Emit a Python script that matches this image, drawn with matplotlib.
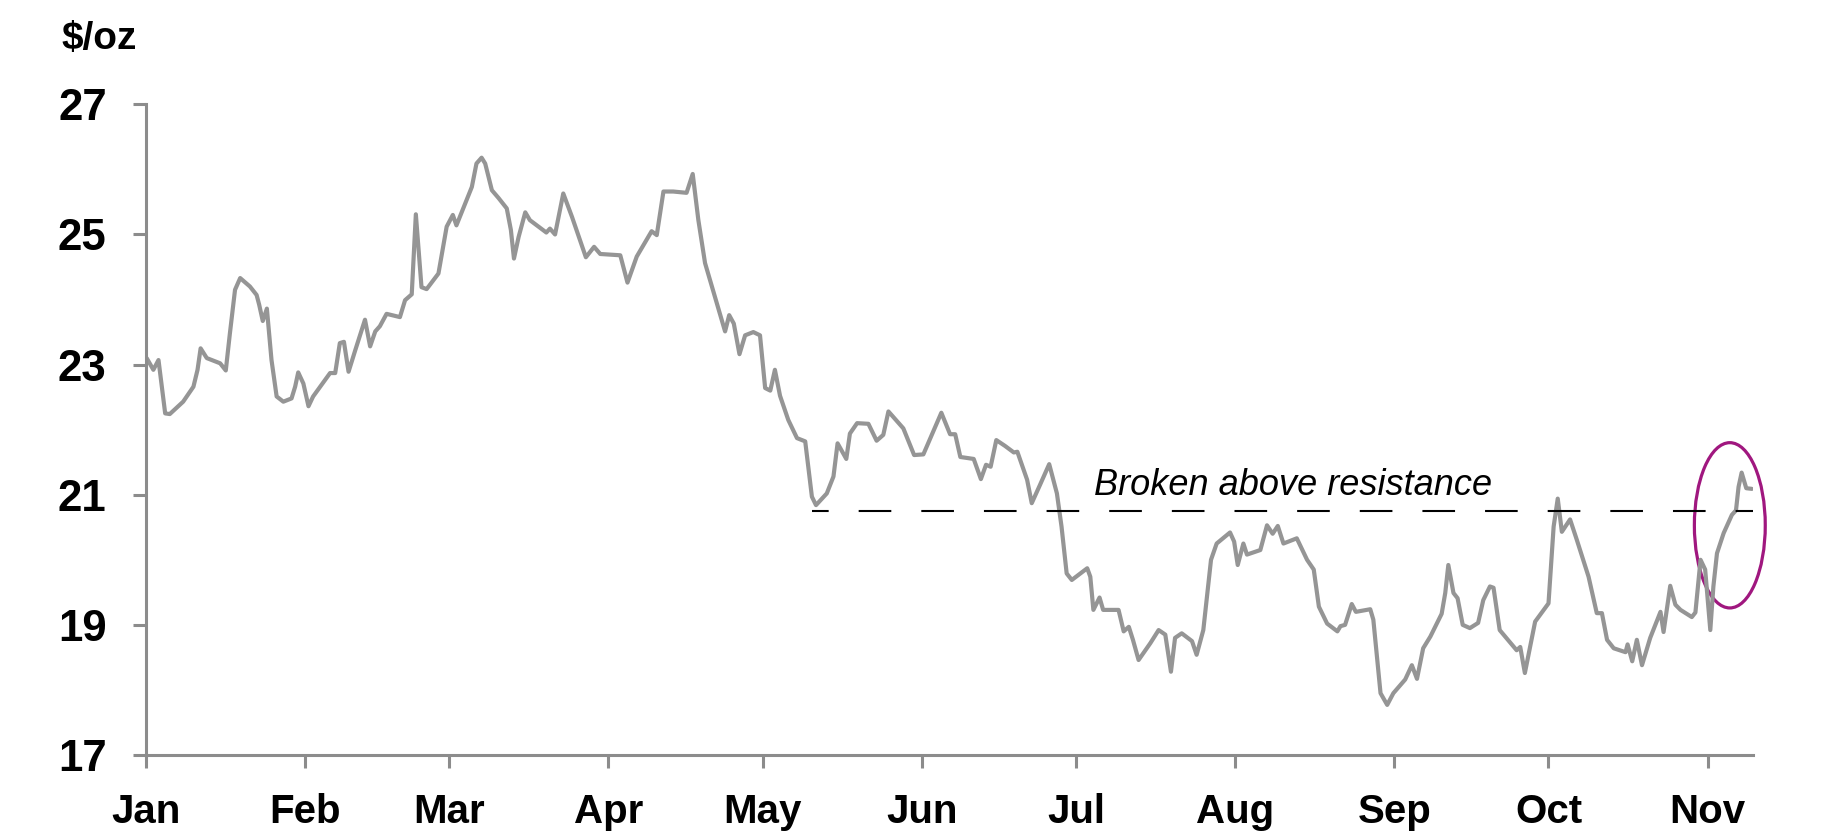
import numpy as np
import pandas as pd
import matplotlib
matplotlib.use("Agg")
import matplotlib.pyplot as plt
import matplotlib.dates as mdates
from matplotlib.patches import Ellipse

# days after 1 Jan 2022, silver price in $/oz
days = [0.1, 1.4, 2.4, 3.7, 4.6, 7.2, 9.2, 10.0, 10.6, 11.8, 14.4, 15.5, 16.3, 17.3, 18.3,
        20.2, 21.5, 22.0, 22.7, 23.5, 24.4, 25.4, 26.7, 28.3, 29.0, 29.6, 30.6, 31.6, 32.5,
        35.8, 36.8, 37.7, 38.5, 39.4, 40.7, 42.6, 43.6, 44.6, 45.5, 46.8, 49.4, 50.4, 51.7,
        52.5, 53.6, 54.6, 56.9,
        58.5, 59.7, 60.4, 63.4, 64.3, 65.3, 66.0, 67.3, 68.6, 70.2, 71.0, 71.6, 72.5, 73.8,
        74.7, 77.9, 78.6, 79.6, 81.2, 82.9, 85.6, 87.2, 88.4, 92.3, 93.7, 95.5, 98.4, 99.4,
        100.7, 102.6, 105.2, 106.4, 107.5, 108.8, 111.1, 112.7, 113.5, 114.4, 115.5,
        116.6, 118.2, 119.5, 120.5, 121.5, 122.4, 123.4, 125.0, 126.7, 128.3, 128.9, 129.6,
        130.4, 132.5, 133.8, 134.6, 136.3, 137.0, 138.4, 140.6, 142.2, 143.5, 144.5, 147.4,
        149.5, 151.3, 154.8, 156.5, 157.5, 158.5, 161.1, 162.5, 163.5, 164.4, 165.5, 167.2,
        168.9, 169.6, 171.5, 172.4, 174.0, 175.8,
        177.3, 178.2, 179.2, 180.2, 183.2, 183.8, 184.4, 185.6, 186.3, 189.3, 190.3, 191.3,
        192.1, 193.2, 195.5, 197.1, 198.4, 199.5, 200.3, 201.6, 203.6, 204.5, 205.8, 207.3,
        208.4, 211.0, 211.8, 212.5, 213.6, 214.3, 216.9, 218.2, 219.3, 220.3, 221.4, 224.0,
        226.0, 227.3, 228.3, 229.9, 231.9, 232.5, 233.4,
        234.7, 235.5, 238.3, 238.9, 240.3, 241.6, 242.8, 245.1, 246.4, 247.4, 248.6, 250.0,
        252.2, 252.9, 253.5, 254.5, 255.3, 256.3, 257.7, 259.3, 260.3, 261.6, 262.3, 263.5,
        266.8, 267.5, 268.4, 270.4, 273.0, 274.0, 274.8, 275.6, 277.2, 278.5, 280.8, 282.4,
        283.4, 284.4, 285.7, 288.0, 288.4, 289.3, 290.2, 291.2, 292.8,
        294.8, 295.4, 296.7, 297.7, 298.7, 300.9, 301.6, 302.6, 303.5, 304.5, 305.1, 305.8,
        307.1, 308.7, 309.5, 310.0, 310.6, 311.5, 312.6]

price = [23.10, 22.92, 23.07, 22.25, 22.24, 22.43, 22.66, 22.92, 23.25, 23.10, 23.02, 22.91, 23.48, 24.15, 24.33,
         24.20, 24.07, 23.92, 23.67, 23.86, 23.07, 22.51, 22.43, 22.48, 22.66, 22.88, 22.71, 22.36, 22.51,
         22.87, 22.87, 23.33, 23.35, 22.89, 23.22, 23.69, 23.28, 23.51, 23.59, 23.78, 23.73, 23.99, 24.08,
         25.31, 24.19, 24.16, 24.40,
         25.12, 25.30, 25.14, 25.73, 26.09, 26.18, 26.09, 25.68, 25.56, 25.40, 25.07, 24.63, 24.96, 25.34,
         25.22, 25.03, 25.09, 25.00, 25.63, 25.27, 24.65, 24.81, 24.70, 24.68, 24.26, 24.66, 25.05, 24.99,
         25.66, 25.66, 25.64, 25.93, 25.22, 24.56, 23.94, 23.51, 23.76, 23.63, 23.16,
         23.45, 23.50, 23.45, 22.64, 22.60, 22.92, 22.52, 22.15, 21.87, 21.82, 21.43, 20.97,
         20.84, 21.02, 21.28, 21.79, 21.55, 21.94, 22.10, 22.09, 21.83, 21.92, 22.28, 22.02,
         21.61, 21.62, 22.26, 21.93, 21.93, 21.58, 21.55, 21.24, 21.46, 21.43, 21.84, 21.75,
         21.65, 21.66, 21.23, 20.87, 21.15, 21.47,
         21.02, 20.51, 19.79, 19.69, 19.87, 19.74, 19.23, 19.42, 19.23, 19.23, 18.90, 18.97,
         18.77, 18.46, 18.72, 18.92, 18.85, 18.28, 18.80, 18.87, 18.75, 18.54, 18.92, 20.00,
         20.25, 20.42, 20.28, 19.92, 20.25, 20.08, 20.15, 20.53, 20.40, 20.52, 20.25, 20.33,
         20.00, 19.85, 19.28, 19.02, 18.90, 18.98, 19.00,
         19.32, 19.20, 19.24, 19.08, 17.95, 17.77, 17.95, 18.16, 18.38, 18.17, 18.64, 18.82,
         19.17, 19.49, 19.92, 19.49, 19.41, 19.00, 18.95, 19.03, 19.38, 19.59, 19.57, 18.92,
         18.61, 18.66, 18.26, 19.05, 19.33, 20.51, 20.94, 20.43, 20.62, 20.31, 19.74, 19.18,
         19.18, 18.77, 18.64, 18.58, 18.70, 18.44, 18.77, 18.38, 18.80,
         19.20, 18.89, 19.60, 19.31, 19.23, 19.12, 19.19, 20.00, 19.85, 18.92, 19.59, 20.10,
         20.41, 20.69, 20.76, 21.12, 21.34, 21.10, 21.09]

resistance = 20.75
resistance_start = 129.6   # ~10 May
x_end = 312.8
note = "Broken above resistance"

start = pd.Timestamp("2022-01-01")
def to_date(d):
    return start + pd.to_timedelta(np.asarray(d), unit="D")

grey = "#959595"
axis_grey = "#8c8c8c"

fig = plt.figure(figsize=(18.34, 8.36), dpi=100)
ax = fig.add_axes([0.0797, 0.0969, 0.8761, 0.7783])

ax.plot(to_date(days), price, color=grey, lw=3.0, solid_joinstyle="round", solid_capstyle="round")

# resistance line
lw_d = 1.5
ax.plot(to_date([resistance_start, x_end]), [resistance, resistance], color="black", lw=lw_d,
        linestyle=(11.5 / lw_d, (23.5 / lw_d, 21.6 / lw_d)))

ax.text(to_date(184.5), 20.99, note, fontsize=26, style="italic",
        family="Liberation Sans", ha="left", va="baseline")

# circle around the breakout
cx = mdates.date2num(to_date(308.3))
ax.add_patch(Ellipse((cx, 20.53), 13.8, 2.54, fill=False, edgecolor="#a0177f", lw=2.3, clip_on=False))

ax.set_xlim(to_date(0), to_date(x_end))
ax.set_ylim(17, 27)
ax.set_yticks([17, 19, 21, 23, 25, 27])
ax.xaxis.set_major_locator(mdates.MonthLocator())
ax.xaxis.set_major_formatter(mdates.DateFormatter("%b"))

for s in ["top", "right"]:
    ax.spines[s].set_visible(False)
for s in ["left", "bottom"]:
    ax.spines[s].set_color(axis_grey)
    ax.spines[s].set_linewidth(2.2)

ax.tick_params(axis="both", direction="out", length=9.4, width=2.2, color=axis_grey)
ax.tick_params(axis="y", pad=19)
ax.tick_params(axis="x", pad=18)
for lab in ax.get_yticklabels():
    lab.set_fontfamily("Liberation Sans")
    lab.set_fontweight("bold")
    lab.set_fontsize(31.5)
for lab in ax.get_xticklabels():
    lab.set_fontfamily("Liberation Sans")
    lab.set_fontweight("bold")
    lab.set_fontsize(29)

fig.text(61 / 1834, 1 - 49 / 836, "$/oz", fontsize=28, fontweight="bold",
         family="Liberation Sans", ha="left", va="baseline")

fig.savefig("out.png", dpi=100)
